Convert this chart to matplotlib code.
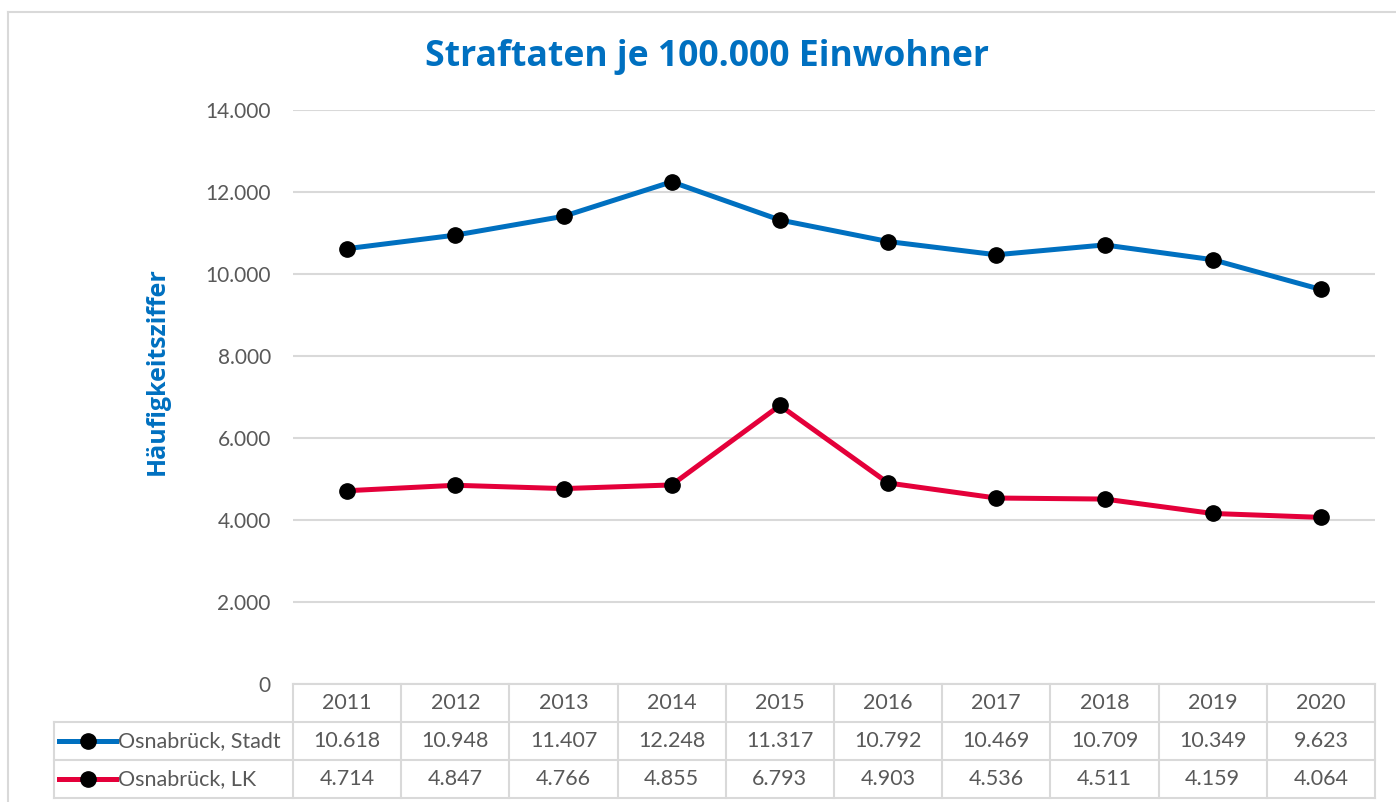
import matplotlib
matplotlib.use('Agg')
import matplotlib.pyplot as plt
from matplotlib.lines import Line2D

years = ['2011', '2012', '2013', '2014', '2015', '2016', '2017', '2018', '2019', '2020']
stadt = [10618, 10948, 11407, 12248, 11317, 10792, 10469, 10709, 10349, 9623]
lk = [4714, 4847, 4766, 4855, 6793, 4903, 4536, 4511, 4159, 4064]
series_names = ['Osnabrück, Stadt', 'Osnabrück, LK']
series_colors = ['#0070c0', '#e4003a']
y_ticks = [0, 2000, 4000, 6000, 8000, 10000, 12000, 14000]

plt.rcParams['font.family'] = ['Lato', 'DejaVu Sans']

W, H = 1396, 802
fig = plt.figure(figsize=(W / 100, H / 100), dpi=100)

# chart area border (Excel style)
fig.add_artist(Line2D([8 / W, 8 / W], [0, 1 - 12 / H], transform=fig.transFigure, color='#d9d9d9', lw=1.5))
fig.add_artist(Line2D([8 / W, 1], [1 - 12 / H, 1 - 12 / H], transform=fig.transFigure, color='#d9d9d9', lw=1.5))

left, right, top, bottom = 293, 1375, 110, 684
ax = fig.add_axes([left / W, 1 - bottom / H, (right - left) / W, (bottom - top) / H])

x = list(range(len(years)))
for vals, col in zip([stadt, lk], series_colors):
    ax.plot(x, vals, color=col, lw=3.6, marker='o', markersize=11,
            markerfacecolor='black', markeredgecolor='black', zorder=3)

ax.set_xlim(-0.5, len(years) - 0.5)
ax.set_ylim(0, 14000)
ax.set_yticks(y_ticks)
ax.set_yticklabels(['0' if v == 0 else f'{v:,}'.replace(',', '.') for v in y_ticks],
                   fontsize=15, color='#595959')
ax.set_xticks([])
ax.tick_params(axis='y', length=0, pad=16)
for s in ax.spines.values():
    s.set_visible(False)
ax.grid(axis='y', color='#d9d9d9', lw=1.5)
ax.set_axisbelow(True)

ax.set_ylabel('Häufigkeitsziffer', fontsize=18, fontweight='bold', color='#0070c0',
              family=['Open Sans', 'DejaVu Sans'])
ax.yaxis.set_label_coords((170 - left) / (right - left), (bottom - 371) / (bottom - top))
fig.text(0.5 * (425 + 990) / W, 1 - 57 / H, 'Straftaten je 100.000 Einwohner',
         fontsize=25.7, fontweight='bold', color='#0070c0', ha='center', va='center',
         family=['Open Sans', 'DejaVu Sans'])

# data table below the plot
tr = ax.get_xaxis_transform()
n = len(years)
px = lambda p: -0.5 + (p - left) / (right - left) * n
row_h = 38 / (bottom - top)
leg_left = px(54)
gc = '#d9d9d9'
for i in range(n + 1):
    ax.plot([i - 0.5, i - 0.5], [0, -3 * row_h], transform=tr, color=gc, lw=1.5, clip_on=False)
ax.plot([leg_left, leg_left], [-row_h, -3 * row_h], transform=tr, color=gc, lw=1.5, clip_on=False)
ax.plot([-0.5, n - 0.5], [0, 0], transform=tr, color=gc, lw=1.5, clip_on=False)
for r in (1, 2, 3):
    ax.plot([leg_left, n - 0.5], [-r * row_h, -r * row_h], transform=tr, color=gc, lw=1.5, clip_on=False)

for i, yr in enumerate(years):
    ax.text(i, -0.5 * row_h, yr, transform=tr, ha='center', va='center', fontsize=15.5, color='#595959')
for r, (vals, name, col) in enumerate(zip([stadt, lk], series_names, series_colors), start=1):
    yc = -(r + 0.5) * row_h
    for i, v in enumerate(vals):
        ax.text(i, yc, f'{v:,}'.replace(',', '.'), transform=tr, ha='center', va='center',
                fontsize=15.5, color='#595959')
    ax.plot([px(59), px(116)], [yc, yc], transform=tr, color=col, lw=3.6, clip_on=False)
    ax.plot([px(88)], [yc], transform=tr, marker='o', markersize=11, color='black', clip_on=False)
    ax.text(px(118), yc, name, transform=tr, ha='left', va='center', fontsize=15.5, color='#595959')

fig.savefig('out.png', dpi=100)
